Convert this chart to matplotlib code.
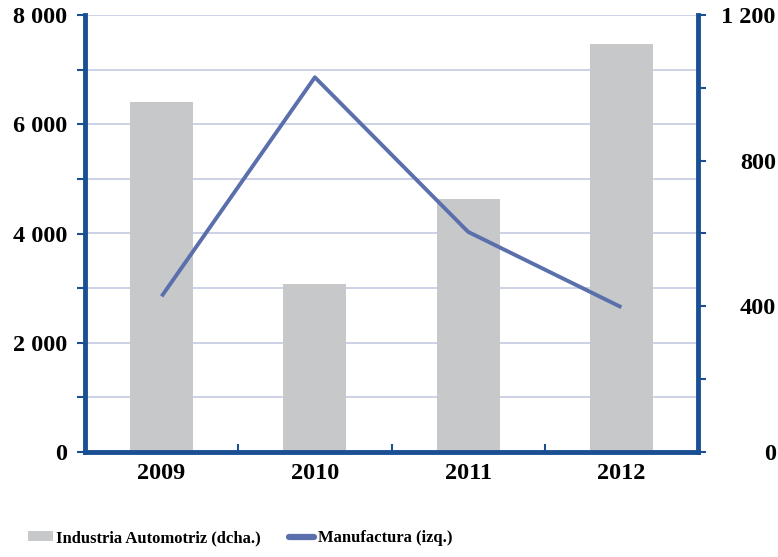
import matplotlib
matplotlib.use("Agg")
import matplotlib.pyplot as plt
import numpy as np
from matplotlib.lines import Line2D
from matplotlib.patches import Patch

years = ["2009", "2010", "2011", "2012"]
automotriz = [960, 460, 695, 1120]          # right axis (dcha.)
manufactura = [2850, 6860, 4030, 2650]      # left axis (izq.)

plt.rcParams['font.family'] = ['Liberation Serif', 'DejaVu Serif']
plt.rcParams['font.weight'] = 'bold'

fig = plt.figure(figsize=(7.78, 5.57), dpi=100)
ax = fig.add_axes([85/778, 105/557, (698-85)/778, (452-15)/557])
ax2 = ax.twinx()

x = np.arange(len(years))
spine_c = '#1b4f93'
grid_c = '#c3cae3'
bar_c = '#c7c8ca'
line_c = '#5a6fab'

ax.set_xlim(-0.5, 3.5)
ax.set_ylim(0, 8000)
ax2.set_ylim(0, 1200)

ax2.set_zorder(0)
ax.set_zorder(1)
ax.patch.set_visible(False)
ax2.patch.set_visible(True)
ax2.patch.set_facecolor('white')

for v in range(1000, 8001, 1000):
    ax2.axhline(v * 1200 / 8000, color=grid_c, lw=1.2, zorder=1)
ax2.bar(x, automotriz, width=0.41, color=bar_c, zorder=2)

ax.plot(x, manufactura, color=line_c, lw=2.8, solid_capstyle='butt', zorder=3)

for a in (ax, ax2):
    for s in a.spines.values():
        s.set_visible(False)
for a, side in ((ax, 'left'), (ax, 'bottom'), (ax2, 'right')):
    a.spines[side].set_visible(True)
    a.spines[side].set_color(spine_c)
    a.spines[side].set_linewidth(3.5)

fs = 17.5
ax.set_yticks(range(0, 8001, 2000))
ax.set_yticklabels(["0", "2 000", "4 000", "6 000", "8 000"], fontsize=fs, fontweight='bold')
ax.set_yticks(range(1000, 8001, 2000), minor=True)
ax.tick_params(axis='y', which='both', direction='out', length=6, width=1.5, color=spine_c, pad=7)

ax2.set_yticks(range(0, 1201, 400))
ax2.set_yticklabels(["0", "400", "800", "1 200"], fontsize=fs, fontweight='bold')
ax2.set_yticks(range(200, 1201, 400), minor=True)
ax2.tick_params(axis='y', which='both', direction='out', length=6, width=1.5, color=spine_c, pad=50)
for t in ax2.get_yticklabels():
    t.set_horizontalalignment('right')

ax.set_xticks(x)
ax.set_xticklabels(years, fontsize=fs, fontweight='bold')
ax.tick_params(axis='x', which='major', length=0, pad=8)
ax.set_xticks([0.5, 1.5, 2.5], minor=True)
ax.tick_params(axis='x', which='minor', direction='in', length=6, width=1.5, color=spine_c)

handles = [Patch(facecolor=bar_c, edgecolor='none'),
           Line2D([0], [0], color=line_c, lw=4.5, solid_capstyle='round')]
fig.legend(handles, ["Industria Automotriz (dcha.)", "Manufactura (izq.)"],
           loc='center left', bbox_to_anchor=(28/778, 1 - 538/557), ncol=2, frameon=False,
           prop={'size': 12, 'weight': 'bold'}, handlelength=1.5, handletextpad=0.2,
           columnspacing=1.7, handleheight=0.55, borderpad=0, borderaxespad=0)

fig.savefig("out.png", dpi=100)
